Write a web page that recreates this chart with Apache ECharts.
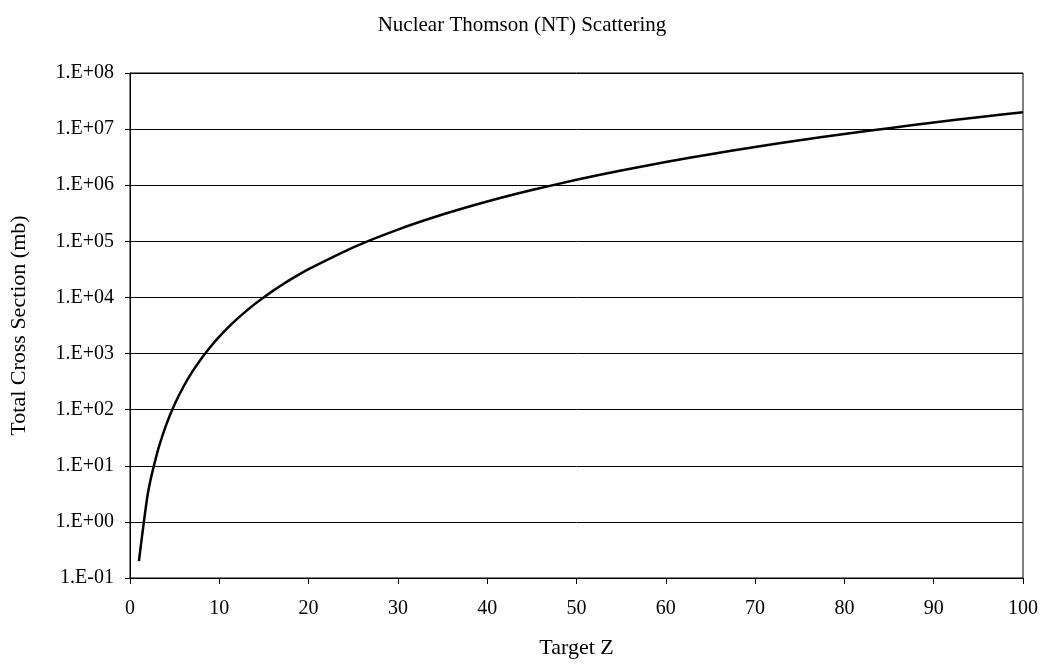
<!DOCTYPE html>
<html>
<head>
<meta charset="utf-8">
<script src="https://cdn.jsdelivr.net/npm/echarts@6/dist/echarts.min.js"></script>
<style>
  html, body { margin: 0; padding: 0; background: #fff; }
  #chart { width: 1047px; height: 664px; }
</style>
</head>
<body>
<div id="chart"></div>
<script>
// target Z
const targetZ = [1, 2, 3, 4, 5, 6, 7, 8, 9, 10, 11, 12, 13, 14, 15, 16, 17, 18, 19, 20,
  25, 30, 35, 40, 45, 50, 55, 60, 65, 70, 75, 80, 85, 90, 95, 100];
// total cross section (mb)
const crossSection = [0.2, 3.2, 16, 51, 125, 259, 480, 819, 1310, 2000, 2930, 4150, 5710, 7680,
  10100, 13100, 16700, 21000, 26100, 32000, 78100, 1.62e5, 3.0e5, 5.12e5, 8.2e5, 1.25e6, 1.83e6,
  2.59e6, 3.57e6, 4.8e6, 6.33e6, 8.19e6, 1.04e7, 1.31e7, 1.63e7, 2.0e7];
const yTickLabels = ["1.E-01", "1.E+00", "1.E+01", "1.E+02", "1.E+03", "1.E+04", "1.E+05", "1.E+06", "1.E+07", "1.E+08"];

const serif = "'Liberation Serif', 'DejaVu Serif', serif";

const chart = echarts.init(document.getElementById("chart"));
chart.setOption({
  backgroundColor: "#fff",
  animation: false,
  title: {
    text: "Nuclear Thomson (NT) Scattering",
    left: 517,
    textAlign: "center",
    top: 10,
    textStyle: { fontFamily: serif, fontSize: 21, fontWeight: "normal", color: "#000" }
  },
  grid: {
    left: 129,
    right: 24,
    top: 73,
    bottom: 84,
    show: true,
    borderColor: "#000",
    borderWidth: 1
  },
  xAxis: {
    type: "value",
    min: 0,
    max: 100,
    interval: 10,
    name: "Target Z",
    nameLocation: "middle",
    nameGap: 59,
    nameTextStyle: { fontFamily: serif, fontSize: 22, color: "#000" },
    axisLine: { lineStyle: { color: "#000" } },
    axisTick: { inside: false, length: 6, lineStyle: { color: "#000" } },
    axisLabel: { fontFamily: serif, fontSize: 20, color: "#000", margin: 21 },
    splitLine: { show: false }
  },
  yAxis: {
    type: "log",
    logBase: 10,
    min: 0.1,
    max: 1e8,
    name: "Total Cross Section (mb)",
    nameLocation: "middle",
    nameGap: 100,
    nameTextStyle: { fontFamily: serif, fontSize: 22, color: "#000" },
    axisLine: { show: true, lineStyle: { color: "#000" } },
    axisTick: { show: true, length: 5, lineStyle: { color: "#000" } },
    axisLabel: {
      fontFamily: serif,
      fontSize: 20,
      color: "#000",
      margin: 16,
      formatter: function (v) {
        const e = Math.round(Math.log10(v));
        return yTickLabels[e + 1];
      }
    },
    splitLine: { show: true, lineStyle: { color: "#000", width: 1 } }
  },
  series: [{
    type: "line",
    data: targetZ.map((z, i) => [z, crossSection[i]]),
    showSymbol: false,
    smooth: 0.2,
    lineStyle: { color: "#000", width: 2.5 }
  }]
});
</script>
</body>
</html>
